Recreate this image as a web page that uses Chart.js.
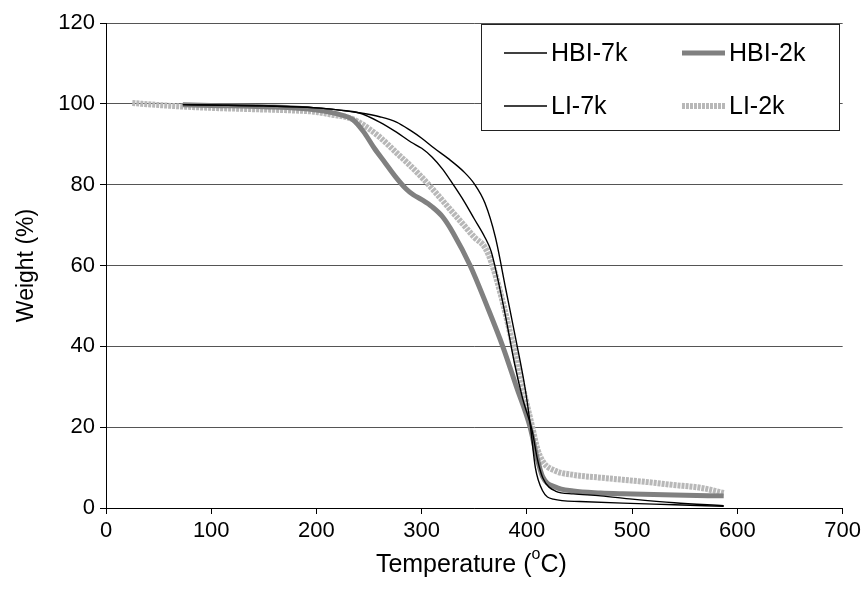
<!DOCTYPE html>
<html>
<head>
<meta charset="utf-8">
<script src="https://cdn.jsdelivr.net/npm/chart.js@4.4.0/dist/chart.umd.min.js"></script>
<style>
  html, body { margin: 0; padding: 0; background: #fff; }
  #wrap { width: 865px; height: 595px; }
</style>
</head>
<body>
<div id="wrap"><canvas id="tgaChart" width="865" height="595"></canvas></div>
<script>
/* axis ticks */
const xTicks = [0, 100, 200, 300, 400, 500, 600, 700];
const yTicks = [0, 20, 40, 60, 80, 100, 120];

/* series (temperature in C, weight in %) */
const hbi7kTemp   = [73, 100, 150, 200, 220, 240, 260, 276, 290, 300, 312, 325, 340, 350, 360, 370, 380, 390, 398, 403, 408, 415, 425, 450, 491, 540, 587];
const hbi7kWeight = [99.8, 99.7, 99.5, 99.0, 98.5, 97.8, 96.8, 95.5, 93.3, 91.5, 89, 86.5, 83.2, 80.2, 75.5, 67, 54, 41, 30, 21, 10, 4.2, 2.2, 1.6, 1.2, 0.8, 0.4];

const hbi2kTemp   = [73, 100, 150, 200, 220, 235, 245, 255, 265, 275, 285, 292, 300, 310, 320, 330, 346, 362, 377, 390, 403, 410, 415, 427, 444, 470, 491, 540, 587];
const hbi2kWeight = [99.8, 99.6, 99.3, 98.5, 97.5, 96, 93, 89, 85.5, 82, 79, 77.5, 76.3, 74.5, 72, 68, 60, 50, 40, 30, 20, 12, 7.7, 5.2, 4.2, 3.7, 3.5, 3.2, 3];

const li7kTemp    = [73, 100, 150, 200, 220, 240, 260, 276, 290, 300, 310, 320, 330, 340, 350, 360, 366, 372, 380, 388, 396, 405, 410, 415, 427, 444, 470, 500, 540, 587];
const li7kWeight  = [99.8, 99.7, 99.5, 99.0, 98.5, 97.8, 95.5, 93, 90.5, 89, 86.8, 83.8, 80, 76, 71.5, 67, 63.5, 57, 47, 36, 27, 19, 12, 7.5, 4.2, 3.5, 3, 2.2, 1.3, 0.6];

const li2kTemp    = [25, 50, 75, 100, 125, 150, 175, 200, 215, 230, 240, 250, 260, 276, 288, 298, 310, 320, 330, 340, 350, 360, 366, 375, 387, 395, 405, 410, 415, 427, 444, 470, 491, 515, 539, 565, 587];
const li2kWeight  = [100.2, 99.7, 99.3, 99.0, 98.8, 98.6, 98.4, 98.0, 97.3, 96.6, 95.5, 93.8, 91.8, 87.9, 85, 82.4, 79, 76, 73, 70, 67, 64.5, 61, 53, 40, 31, 20, 14.5, 11.5, 9.2, 8.2, 7.5, 7, 6.4, 5.7, 5, 3.7];

const FONT = '"Liberation Sans", Arial, sans-serif';

function toPoints(xs, ys) {
  return xs.map((x, i) => ({ x: x, y: ys[i] }));
}

/* legend drawn as a 2x2 boxed grid like the original */
const legendBox = {
  id: 'legendBox',
  afterDatasetsDraw(chart) {
    const ctx = chart.ctx;
    const x0 = 481, y0 = 24, w = 358, h = 106;
    ctx.save();
    ctx.fillStyle = '#fff';
    ctx.fillRect(x0, y0, w, h);
    ctx.strokeStyle = '#222';
    ctx.lineWidth = 1;
    ctx.strokeRect(x0 + 0.5, y0 + 0.5, w, h);
    const cols = [x0 + 23, x0 + 201];
    const rows = [y0 + 29, y0 + 82];
    chart.data.datasets.forEach((ds, i) => {
      const cx = cols[i % 2], cy = rows[Math.floor(i / 2)];
      ctx.beginPath();
      ctx.strokeStyle = ds.borderColor;
      ctx.lineWidth = ds.borderWidth;
      ctx.setLineDash(ds.borderDash || []);
      ctx.moveTo(cx, cy);
      ctx.lineTo(cx + 43, cy);
      ctx.stroke();
      ctx.setLineDash([]);
      ctx.fillStyle = '#000';
      ctx.font = '25px ' + FONT;
      ctx.textBaseline = 'middle';
      ctx.fillText(ds.label, cx + 47, cy + 1);
    });
    ctx.restore();
  }
};

/* x title with the superscript "o" */
const xTitle = {
  id: 'xTitle',
  afterDraw(chart) {
    const { ctx, chartArea } = chart;
    const cx = (chartArea.left + chartArea.right) / 2 - 3;
    const y = 565;
    const big = '25px ' + FONT, small = '16px ' + FONT;
    ctx.save();
    ctx.fillStyle = '#000';
    ctx.textBaseline = 'middle';
    ctx.font = big;
    const a = 'Temperature (', c = 'C)';
    const wa = ctx.measureText(a).width, wc = ctx.measureText(c).width;
    ctx.font = small;
    const wb = ctx.measureText('o').width;
    let x = cx - (wa + wb + wc) / 2;
    ctx.font = big;
    ctx.fillText(a, x, y);
    x += wa;
    ctx.font = small;
    ctx.fillText('o', x, y - 10);
    x += wb;
    ctx.font = big;
    ctx.fillText(c, x, y);
    ctx.restore();
  }
};

const ctx = document.getElementById('tgaChart').getContext('2d');
const tgaChart = new Chart(ctx, {
  type: 'scatter',
  data: {
    datasets: [
      { label: 'HBI-7k', data: toPoints(hbi7kTemp, hbi7kWeight), borderColor: '#000', borderWidth: 1.4, order: 0 },
      { label: 'HBI-2k', data: toPoints(hbi2kTemp, hbi2kWeight), borderColor: '#808080', borderWidth: 5, order: 2 },
      { label: 'LI-7k', data: toPoints(li7kTemp, li7kWeight), borderColor: '#000', borderWidth: 1.4, order: 1 },
      { label: 'LI-2k', data: toPoints(li2kTemp, li2kWeight), borderColor: '#b8b8b8', borderWidth: 6, borderDash: [3, 1], order: 3 }
    ]
  },
  options: {
    responsive: false,
    animation: false,
    showLine: true,
    elements: {
      point: { radius: 0, hoverRadius: 0 },
      line: { cubicInterpolationMode: 'monotone', fill: false, borderCapStyle: 'butt' }
    },
    layout: { padding: { left: 0, top: 23, right: 22, bottom: 0 } },
    plugins: {
      legend: { display: false },
      tooltip: { enabled: false }
    },
    scales: {
      x: {
        type: 'linear',
        min: 0,
        max: 700,
        afterBuildTicks: s => { s.ticks = xTicks.map(v => ({ value: v })); },
        afterFit: s => { s.height = 87; },
        border: { color: '#000', width: 1 },
        grid: { drawOnChartArea: false, drawTicks: true, tickLength: 6, color: '#000' },
        ticks: { color: '#000', font: { family: FONT, size: 22 }, padding: 4, maxRotation: 0 }
      },
      y: {
        type: 'linear',
        min: 0,
        max: 120,
        afterBuildTicks: s => { s.ticks = yTicks.map(v => ({ value: v })); },
        afterFit: s => { s.width = 106; },
        border: { color: '#000', width: 1 },
        grid: { color: '#555', tickColor: '#000', tickLength: 6, lineWidth: 1 },
        ticks: { color: '#000', font: { family: FONT, size: 22 }, padding: 5 },
        title: { display: true, text: 'Weight (%)', color: '#000', font: { family: FONT, size: 23 }, padding: { top: 13, bottom: 0 } }
      }
    }
  },
  plugins: [legendBox, xTitle]
});
</script>
</body>
</html>
